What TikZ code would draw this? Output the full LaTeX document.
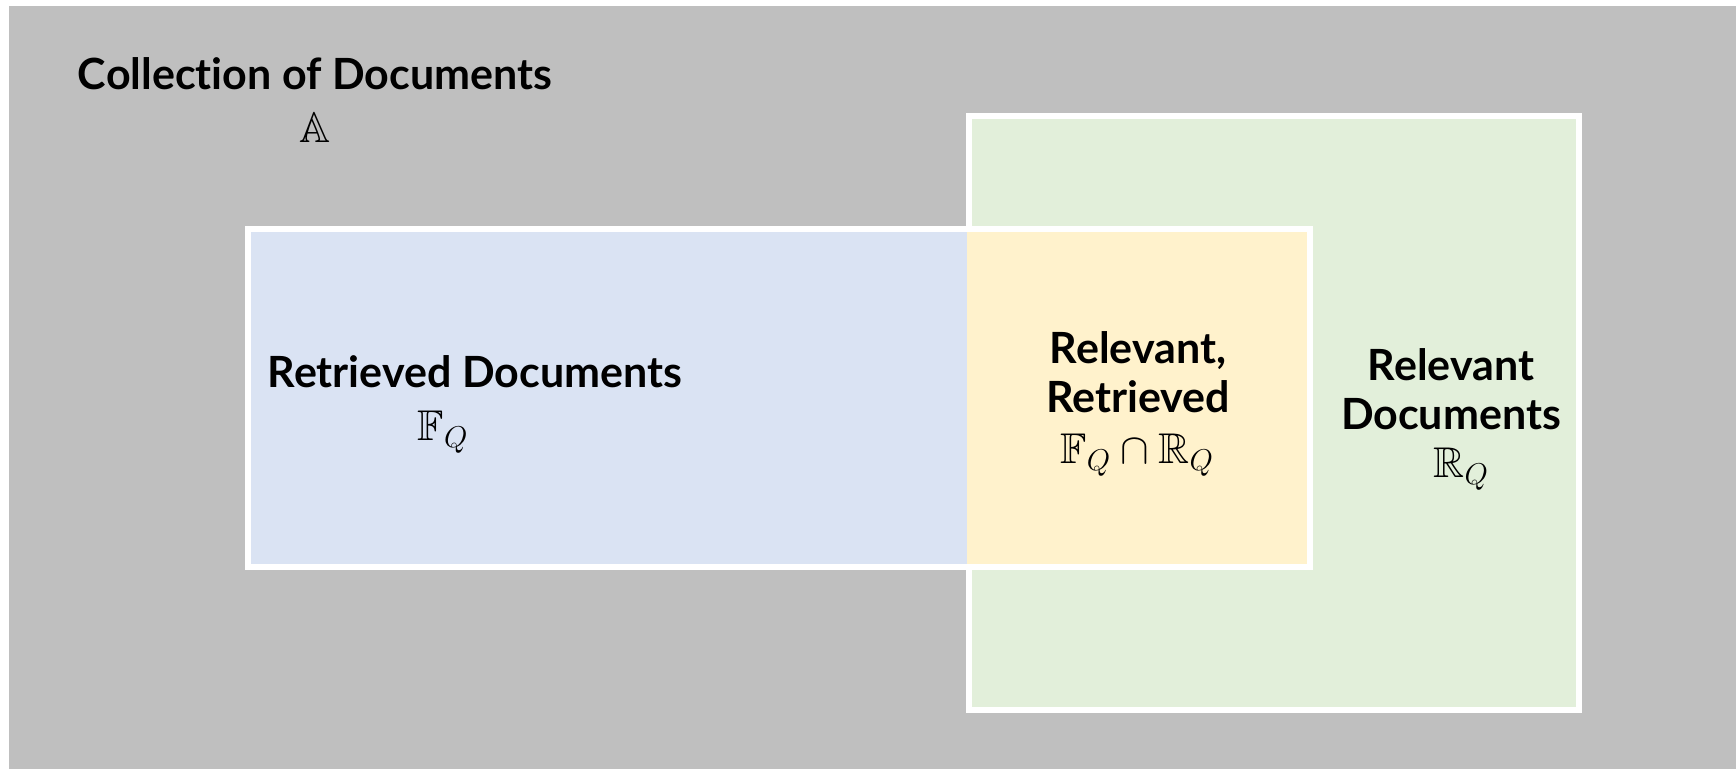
\RequirePackage{fix-cm}
\documentclass[tikz,border=0pt]{standalone}
\usepackage{amssymb}
\usepackage{fontspec}
\setmainfont{Lato}[Ligatures=NoCommon]

\definecolor{collGray}{HTML}{BFBFBF}
\definecolor{retBlue}{HTML}{DAE3F3}
\definecolor{relGreen}{HTML}{E2EFDA}
\definecolor{bothYellow}{HTML}{FFF2CC}

\tikzset{
  setbox/.style={draw=white, line width=5.5pt},
  settitle/.style={font=\bfseries\fontsize{43}{48.5}\selectfont, align=center, inner sep=0pt},
  setsymbol/.style={font=\fontsize{43}{48.5}\selectfont, inner sep=0pt},
}

\begin{document}
\begin{tikzpicture}[x=1pt, y=-1pt]
\useasboundingbox (0,0) rectangle (1736,769);
% the whole collection
\fill[collGray] (9,6) rectangle (1736,769);
% relevant documents
\draw[setbox, fill=relGreen] (969,116) rectangle (1579,710);
% retrieved documents
\draw[setbox, fill=retBlue] (248,229) rectangle (970,567);
% overlap, open on its left side
\fill[bothYellow] (967,229) rectangle (1310,567);
\draw[setbox] (967,229) -- (1310,229) -- (1310,567) -- (967,567);

\node[settitle] (coll) at (315,74) {Collection of Documents};
\node[setsymbol] (collsym) at (315,128) {$\mathbb{A}$};

\node[settitle] (ret) at (475,372) {Retrieved Documents};
\node[setsymbol] (retsym) at (443,432) {$\mathbb{F}_Q$};

\node[settitle] (both) at (1138,372) {Relevant,\\Retrieved};
\node[setsymbol] (bothsym) at (1137,455) {$\mathbb{F}_Q \cap \mathbb{R}_Q$};

\node[settitle] (rel) at (1451,389) {Relevant\\Documents};
\node[setsymbol] (relsym) at (1461,469) {$\mathbb{R}_Q$};
\end{tikzpicture}
\end{document}
